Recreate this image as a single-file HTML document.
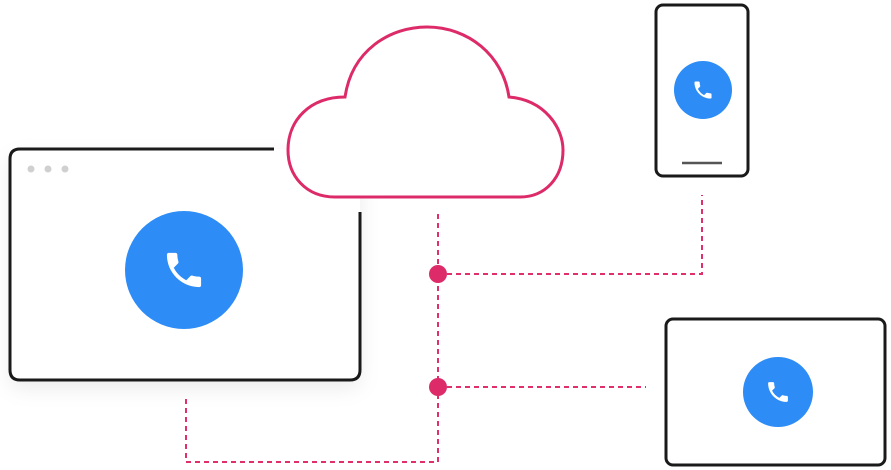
<!DOCTYPE html>
<html><head><meta charset="utf-8"><style>
html,body{margin:0;padding:0;background:#fff;width:891px;height:470px;overflow:hidden}
</style></head><body>
<svg width="891" height="470" viewBox="0 0 891 470" xmlns="http://www.w3.org/2000/svg">
<defs>
<filter id="sh" x="-20%" y="-20%" width="140%" height="150%"><feDropShadow dx="0" dy="8" stdDeviation="10" flood-color="#000" flood-opacity="0.08"/></filter>
<path id="ph" d="M6.62 10.79c1.44 2.83 3.76 5.14 6.59 6.59l2.2-2.2c.27-.27.67-.36 1.020-.24 1.12.37 2.33.57 3.57.57.55 0 1 .45 1 1V20c0 .55-.45 1-1 1-9.39 0-17-7.61-17-17 0-.55.45-1 1-1h3.5c.55 0 1 .45 1 1 0 1.25.2 2.45.57 3.57.11.35.03.74-.25 1.02l-2.2 2.2z" fill="#fff"/>
</defs>
<rect x="10" y="149" width="350" height="231" rx="10" fill="#fff" filter="url(#sh)"/>
<path d="M274 149 L20 149 Q10 149 10 159 L10 370 Q10 380 20 380 L350 380 Q360 380 360 370 L360 212" fill="none" stroke="#1a1a1a" stroke-width="3"/>
<circle cx="31" cy="169" r="3.5" fill="#d0d0d0"/><circle cx="48" cy="169" r="3.5" fill="#d0d0d0"/><circle cx="65" cy="169" r="3.5" fill="#d0d0d0"/>
<circle cx="184" cy="270" r="59" fill="#2d8cf5"/>
<g transform="translate(184 270) scale(1.9) translate(-12 -12)"><use href="#ph"/></g>
<path d="M345 97 C352 50 390 27 427 27 C468 27 503 55 509 97 C545 100 563 128 563 150 C563 178 545 197 520 197 L335 197 C306 197 288 176 288 150 C288 120 310 97 345 97 Z" fill="#fff" stroke="#dd2a68" stroke-width="3"/>
<rect x="656" y="5" width="92" height="171" rx="7" fill="#fff" stroke="#1a1a1a" stroke-width="3"/>
<line x1="682" y1="163" x2="722" y2="163" stroke="#555" stroke-width="2.5"/>
<circle cx="703" cy="90" r="29" fill="#2d8cf5"/>
<g transform="translate(703 90) scale(0.95) translate(-12 -12)"><use href="#ph"/></g>
<rect x="666" y="319" width="219" height="146" rx="7" fill="#fff" stroke="#1a1a1a" stroke-width="3"/>
<circle cx="778" cy="392" r="35" fill="#2d8cf5"/>
<g transform="translate(778 392) scale(1.1) translate(-12 -12)"><use href="#ph"/></g>
<g fill="none" stroke="#e0306c" stroke-width="2" stroke-dasharray="5 4">
<path d="M438 214 L438 462 L186 462 L186 395"/>
<path d="M438 274 L702 274 L702 195"/>
<path d="M438 387 L646 387"/>
</g>
<circle cx="438" cy="274" r="9" fill="#dd2a68"/>
<circle cx="438" cy="387" r="9" fill="#dd2a68"/>
</svg>
</body></html>
